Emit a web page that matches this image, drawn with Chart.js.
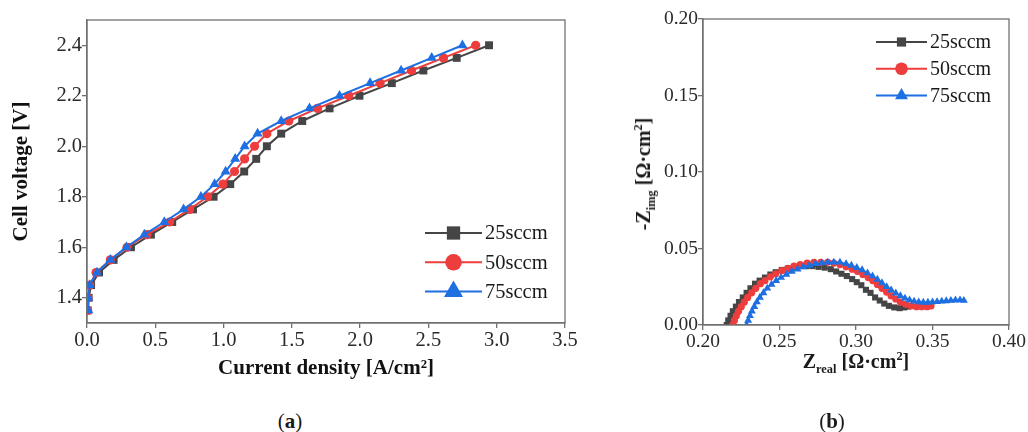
<!DOCTYPE html>
<html>
<head>
<meta charset="utf-8">
<script src="https://cdn.jsdelivr.net/npm/chart.js@4.4.1/dist/chart.umd.min.js"></script>
<style>
  html, body { margin: 0; padding: 0; background: #fff; }
  body { width: 1028px; height: 432px; position: relative; overflow: hidden; font-family: 'Liberation Serif', serif; color: #1a1a1a; }
  #chartA { position: absolute; left: 0; top: 0; }
  #chartB { position: absolute; left: 580px; top: 0; }
  .cap { position: absolute; top: 409px; width: 100px; text-align: center; font-size: 21px; line-height: 24px; }
  .ttl { position: absolute; font-weight: bold; font-size: 20px; line-height: 22px; white-space: nowrap; transform: translate(-50%, -50%); }
  .ttl sub, .ttl sup { font-size: 0.62em; line-height: 0; }
  #ttlBy { transform: translate(-50%, -50%) rotate(-90deg); }
</style>
</head>
<body>
<canvas id="chartA" width="580" height="390"></canvas>
<canvas id="chartB" width="448" height="390"></canvas>
<div class="ttl" id="ttlBx" style="left:856px; top:361px;">Z<sub>real</sub> [Ω·cm<sup>2</sup>]</div>
<div class="ttl" id="ttlBy" style="left:643px; top:174px;">-Z<sub>img</sub> [Ω·cm<sup>2</sup>]</div>
<div class="cap" style="left:240px;">(<b>a</b>)</div>
<div class="cap" style="left:782px;">(<b>b</b>)</div>
<script>
// (a) polarization curves
const voltage = [1.35, 1.40, 1.45, 1.50, 1.55, 1.60, 1.65, 1.70, 1.75, 1.80, 1.85, 1.90, 1.95, 2.00, 2.05, 2.10, 2.15, 2.20, 2.25, 2.30, 2.35, 2.40]
const current25 = [0.005, 0.012, 0.03, 0.088, 0.195, 0.322, 0.468, 0.624, 0.776, 0.927, 1.049, 1.151, 1.239, 1.317, 1.422, 1.576, 1.776, 1.995, 2.232, 2.463, 2.707, 2.944]
const current50 = [0.005, 0.007, 0.02, 0.066, 0.171, 0.293, 0.439, 0.605, 0.751, 0.883, 0.995, 1.080, 1.154, 1.227, 1.317, 1.478, 1.688, 1.917, 2.146, 2.376, 2.610, 2.846]
const current75 = [0.010, 0.010, 0.02, 0.073, 0.171, 0.288, 0.420, 0.566, 0.707, 0.834, 0.934, 1.015, 1.085, 1.154, 1.249, 1.422, 1.629, 1.849, 2.073, 2.300, 2.524, 2.749]
const xTicksA = [0, 0.5, 1.0, 1.5, 2.0, 2.5, 3.0, 3.5]
const yTicksA = [1.4, 1.6, 1.8, 2.0, 2.2, 2.4]

// (b) Nyquist plots
const zReal25 = [0.2155, 0.2165, 0.2180, 0.2195, 0.2215, 0.2235, 0.2260, 0.2285, 0.2310, 0.2340, 0.2370, 0.2405, 0.2440, 0.2475, 0.2515, 0.2555, 0.2595, 0.2635, 0.2675, 0.2715, 0.2755, 0.2795, 0.2835, 0.2870, 0.2905, 0.2940, 0.2975, 0.3005, 0.3035, 0.3065, 0.3095, 0.3125, 0.3155, 0.3185, 0.3215, 0.3250, 0.3285, 0.3315, 0.3340]
const zImg25 = [0.000, 0.003, 0.006, 0.009, 0.012, 0.015, 0.018, 0.021, 0.024, 0.027, 0.029, 0.031, 0.033, 0.0345, 0.036, 0.037, 0.038, 0.0385, 0.0385, 0.0385, 0.038, 0.0375, 0.0365, 0.035, 0.0335, 0.032, 0.030, 0.028, 0.026, 0.023, 0.021, 0.018, 0.016, 0.014, 0.0125, 0.0115, 0.011, 0.0115, 0.012]
const zReal50 = [0.2195, 0.2205, 0.2218, 0.2232, 0.2250, 0.2270, 0.2292, 0.2318, 0.2345, 0.2375, 0.2405, 0.2440, 0.2475, 0.2515, 0.2555, 0.2595, 0.2635, 0.2680, 0.2725, 0.2770, 0.2815, 0.2855, 0.2895, 0.2935, 0.2975, 0.3010, 0.3045, 0.3080, 0.3110, 0.3140, 0.3170, 0.3200, 0.3230, 0.3260, 0.3290, 0.3325, 0.3360, 0.3395, 0.3430, 0.3465, 0.3490]
const zImg50 = [0.000, 0.003, 0.006, 0.009, 0.012, 0.015, 0.018, 0.021, 0.024, 0.027, 0.029, 0.0315, 0.0335, 0.0355, 0.037, 0.0385, 0.0395, 0.0405, 0.041, 0.041, 0.041, 0.0405, 0.0395, 0.038, 0.0365, 0.035, 0.033, 0.031, 0.029, 0.0265, 0.024, 0.0215, 0.019, 0.017, 0.015, 0.0135, 0.0125, 0.012, 0.012, 0.012, 0.0125]
const zReal75 = [0.2285, 0.2295, 0.2307, 0.2320, 0.2335, 0.2352, 0.2372, 0.2395, 0.2420, 0.2448, 0.2478, 0.2510, 0.2545, 0.2580, 0.2618, 0.2655, 0.2695, 0.2735, 0.2775, 0.2815, 0.2855, 0.2895, 0.2935, 0.2970, 0.3005, 0.3040, 0.3075, 0.3108, 0.3140, 0.3170, 0.3200, 0.3230, 0.3260, 0.3290, 0.3320, 0.3350, 0.3380, 0.3410, 0.3440, 0.3470, 0.3500, 0.3530, 0.3560, 0.3590, 0.3620, 0.3650, 0.3680, 0.3705]
const zImg75 = [0.000, 0.003, 0.006, 0.009, 0.012, 0.015, 0.018, 0.021, 0.024, 0.0265, 0.029, 0.031, 0.033, 0.035, 0.0365, 0.038, 0.039, 0.040, 0.0405, 0.041, 0.041, 0.041, 0.040, 0.039, 0.0375, 0.036, 0.034, 0.032, 0.0298, 0.0275, 0.025, 0.0228, 0.0208, 0.019, 0.0175, 0.0163, 0.0155, 0.015, 0.0148, 0.0148, 0.015, 0.0152, 0.0155, 0.0158, 0.016, 0.0162, 0.0163, 0.016]
const xTicksB = [0.20, 0.25, 0.30, 0.35, 0.40]
const yTicksB = [0.00, 0.05, 0.10, 0.15, 0.20]

const seriesLabels = ['25sccm', '50sccm', '75sccm']
const seriesColors = ['#454545', '#ee3d3d', '#1d6fe2']
const seriesStyles = ['rect', 'circle', 'triangle']

const FAMILY = "'Liberation Serif', serif"
const AXIS = '#707070'

const pairs = (xs, ys) => xs.map((x, i) => ({ x, y: ys[i] }))

// box around the plot area
const frame = {
  id: 'frame',
  afterDraw (chart) {
    const { ctx, chartArea: a } = chart
    ctx.save()
    ctx.strokeStyle = AXIS
    ctx.lineWidth = 1.3
    ctx.strokeRect(a.left, a.top, a.right - a.left, a.bottom - a.top)
    ctx.restore()
  }
}

// legend drawn inside the plot: line with marker, then label
const insideLegend = {
  id: 'insideLegend',
  afterDraw (chart, args, opts) {
    const { ctx, chartArea } = chart
    ctx.save()
    ctx.font = opts.size + 'px ' + FAMILY
    ctx.textBaseline = 'middle'
    chart.data.datasets.forEach((ds, i) => {
      const y = chartArea.top + opts.top + i * opts.rowGap
      const x0 = chartArea.left + opts.left
      ctx.strokeStyle = ds.borderColor
      ctx.lineWidth = opts.lineWidth
      ctx.beginPath()
      ctx.moveTo(x0, y)
      ctx.lineTo(x0 + opts.lineLen, y)
      ctx.stroke()
      ctx.fillStyle = ds.backgroundColor
      Chart.helpers.drawPoint(ctx, { pointStyle: ds.pointStyle, radius: opts.radius[i], borderWidth: 0, rotation: 0 }, x0 + opts.lineLen / 2, y)
      ctx.fillStyle = '#1a1a1a'
      ctx.fillText(ds.label, x0 + opts.lineLen + 3, y + 1)
    })
    ctx.restore()
  }
}

const makeDatasets = (sets, radii, width) => sets.map((d, i) => ({
  label: seriesLabels[i],
  data: d,
  borderColor: seriesColors[i],
  backgroundColor: seriesColors[i],
  pointStyle: seriesStyles[i],
  pointRadius: radii[i],
  pointHoverRadius: radii[i],
  pointBorderWidth: 0,
  borderWidth: width,
  tension: 0,
  order: 3 - i
}))

const axis = (min, max, ticks, digits, size, extra) => Object.assign({
  type: 'linear',
  min,
  max,
  afterBuildTicks: s => { s.ticks = ticks.map(v => ({ value: v })) },
  ticks: { font: { family: FAMILY, size }, color: '#2a2a2a', padding: 0, maxRotation: 0, autoSkip: false, callback: v => v.toFixed(digits) },
  grid: { drawOnChartArea: false, drawTicks: true, tickLength: 5, color: AXIS, lineWidth: 1.3 },
  border: { display: true, color: AXIS, width: 1.3 }
}, extra)

new Chart(document.getElementById('chartA'), {
  type: 'line',
  data: {
    datasets: makeDatasets([
      pairs(current25, voltage),
      pairs(current50, voltage),
      pairs(current75, voltage)
    ], [5.6, 4.6, 5.8], 2)
  },
  options: {
    responsive: false,
    animation: false,
    events: [],
    layout: { padding: { top: 20, right: 15, left: 0, bottom: 0 } },
    scales: {
      x: axis(0, 3.5, xTicksA, 1, 20.5, {
        afterFit: s => { s.height = 67 },
        title: { display: true, text: 'Current density [A/cm²]', color: '#111', font: { family: FAMILY, size: 21, weight: 'bold' }, padding: { top: 0, bottom: 9 } }
      }),
      y: axis(1.3, 2.5, yTicksA, 1, 20.5, {
        afterFit: s => { s.width = 87 },
        title: { display: true, text: 'Cell voltage [V]', color: '#111', font: { family: FAMILY, size: 21, weight: 'bold' }, padding: { top: 9, bottom: 0 } }
      })
    },
    plugins: {
      legend: { display: false },
      tooltip: { enabled: false },
      insideLegend: { left: 338, top: 213, rowGap: 29.3, lineLen: 57, lineWidth: 2, size: 20.5, radius: [9.4, 8.3, 11] }
    }
  },
  plugins: [frame, insideLegend]
})

new Chart(document.getElementById('chartB'), {
  type: 'line',
  data: {
    datasets: makeDatasets([
      pairs(zReal25, zImg25),
      pairs(zReal50, zImg50),
      pairs(zReal75, zImg75)
    ], [4.3, 3.6, 4.6], 1.5)
  },
  options: {
    responsive: false,
    animation: false,
    events: [],
    layout: { padding: { top: 19, right: 19, left: 0, bottom: 0 } },
    scales: {
      x: axis(0.2, 0.4, xTicksB, 2, 19.5, { afterFit: s => { s.height = 65 } }),
      y: axis(0, 0.2, yTicksB, 2, 19.5, { afterFit: s => { s.width = 123 } })
    },
    plugins: {
      legend: { display: false },
      tooltip: { enabled: false },
      insideLegend: { left: 173, top: 23, rowGap: 26.7, lineLen: 51, lineWidth: 2, size: 20, radius: [6.5, 6.3, 7.5] }
    }
  },
  plugins: [frame, insideLegend]
})
</script>
</body>
</html>
